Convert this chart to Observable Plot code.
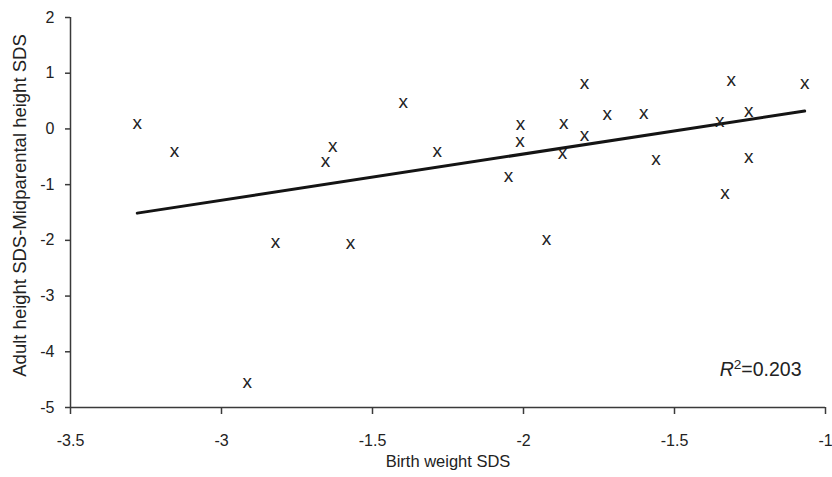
<!DOCTYPE html>
<html><head><meta charset="utf-8">
<script src="https://cdn.jsdelivr.net/npm/d3@7"></script>
<script src="https://cdn.jsdelivr.net/npm/@observablehq/plot@0.6"></script>
<style>body{margin:0;background:#fff;}</style>
</head><body><div id="chart"></div>
<script>
const birthWeightSDS = [-3.279, -3.156, -2.915, -2.821, -2.656, -2.632, -2.573, -2.398, -2.286, -2.050, -2.012, -2.010, -1.924, -1.871, -1.867, -1.798, -1.798, -1.723, -1.602, -1.561, -1.350, -1.333, -1.312, -1.254, -1.254, -1.069];
const heightDiffSDS  = [0.092, -0.405, -4.557, -2.051, -0.585, -0.316, -2.062, 0.462, -0.418, -0.867, -0.226, 0.079, -1.990, -0.447, 0.092, -0.124, 0.810, 0.253, 0.271, -0.554, 0.133, -1.165, 0.857, 0.300, -0.518, 0.810];
const xTickValues = [-3.5, -3, -2.5, -2, -1.5, -1];
const xTickLabels = ["-3.5", "-3", "-1.5", "-2", "-1.5", "-1"];
const yTickValues = [-5, -4, -3, -2, -1, 0, 1, 2];
const xLabel = "Birth weight SDS";
const yLabel = "Adult height SDS-Midparental height SDS";
const r2Label = "R2=0.203";

const data = birthWeightSDS.map((x, i) => ({x, y: heightDiffSDS[i]}));
const font = "'Liberation Sans', Arial, sans-serif";
const axisColor = "#3a3a3a";
const textColor = "#222";

const chart = Plot.plot({
  width: 832, height: 477,
  marginLeft: 70, marginRight: 7, marginTop: 17, marginBottom: 70,
  style: {fontFamily: font, fontSize: "16px", color: textColor, background: "#fff", overflow: "visible"},
  x: {domain: [-3.5, -1]},
  y: {domain: [-5, 2]},
  marks: [
    Plot.ruleX([-3.5], {stroke: axisColor, strokeWidth: 1.5}),
    Plot.ruleY([-5], {stroke: axisColor, strokeWidth: 1.5}),
    Plot.axisX({ticks: xTickValues, tickFormat: d => xTickLabels[xTickValues.indexOf(d)], tickSize: 7, tickPadding: 20, label: null, stroke: axisColor, strokeWidth: 1.5, fontSize: 16, fill: textColor}),
    Plot.axisY({ticks: yTickValues, tickFormat: d => String(d), tickSize: 5, tickPadding: 11, label: null, stroke: axisColor, strokeWidth: 1.5, fontSize: 16, fill: textColor}),
    Plot.linearRegressionY(data, {x: "x", y: "y", ci: 0, stroke: "#141414", strokeWidth: 3}),
    Plot.text(data, {x: "x", y: "y", text: () => "x", fontSize: 19, dy: -1, fill: textColor}),
    Plot.text([xLabel], {frameAnchor: "bottom", dy: 59, fontSize: 16.5, fill: textColor}),
    Plot.text([yLabel], {frameAnchor: "left", textAnchor: "middle", rotate: -90, dx: -50, dy: -7, fontSize: 18.5, fill: textColor}),
    Plot.text([r2Label], {frameAnchor: "bottom-right", dx: -24, dy: -32, textAnchor: "end", lineAnchor: "bottom", fontSize: 19.5, fill: textColor})
  ]
});
document.getElementById("chart").appendChild(chart);

// Style the R² annotation: italic R, superscript 2
d3.select(chart).selectAll("text").each(function () {
  if (this.textContent === r2Label) {
    const t = d3.select(this);
    t.text(null);
    t.append("tspan").attr("font-style", "italic").text(r2Label.slice(0, 1));
    t.append("tspan").attr("font-size", "0.7em").attr("dy", "-0.45em").text(r2Label.slice(1, 2));
    t.append("tspan").attr("dy", "0.32em").text(r2Label.slice(2));
  }
});
</script>
</body></html>
